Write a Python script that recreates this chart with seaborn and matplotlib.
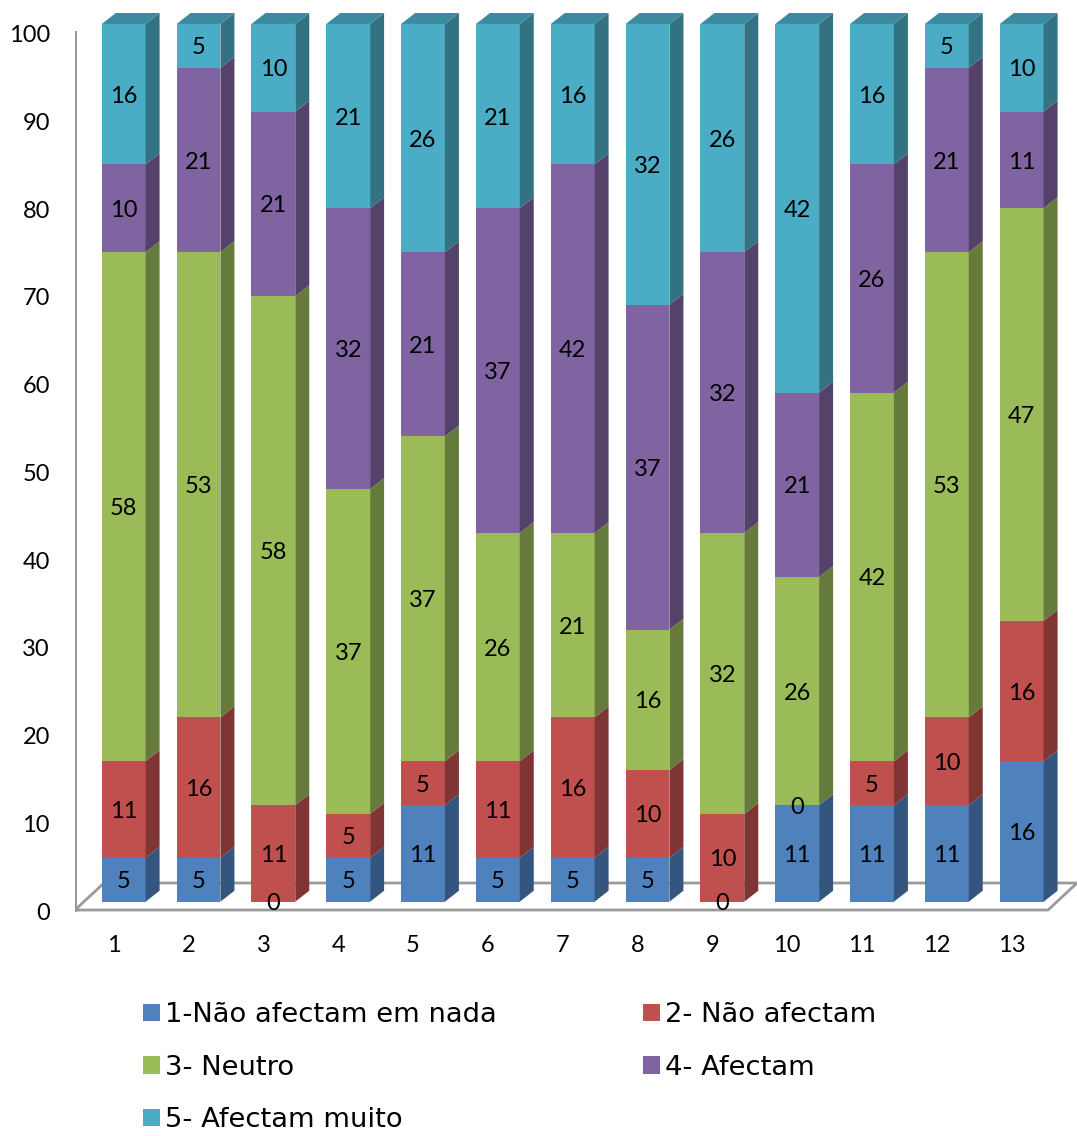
import numpy as np
import matplotlib
matplotlib.use("Agg")
import matplotlib.pyplot as plt
import seaborn as sns
from matplotlib.patches import Polygon, Patch
from matplotlib.transforms import ScaledTranslation
import matplotlib.colors as mcolors

# Survey answers per question (percent of respondents)
questions = [str(i) for i in range(1, 14)]
nada = [5, 5, 0, 5, 11, 5, 5, 5, 0, 11, 11, 11, 16]
nao_afectam = [11, 16, 11, 5, 5, 11, 16, 10, 10, 0, 5, 10, 16]
neutro = [58, 53, 58, 37, 37, 26, 21, 16, 32, 26, 42, 53, 47]
afectam = [10, 21, 21, 32, 21, 37, 42, 37, 32, 21, 26, 21, 11]
muito = [16, 5, 10, 21, 26, 21, 16, 32, 26, 42, 16, 5, 10]
series_names = ["1-Não afectam em nada", "2- Não afectam", "3- Neutro",
                "4- Afectam", "5- Afectam muito"]
colors = ["#4F81BD", "#C0504D", "#9BBB59", "#8064A2", "#4BACC6"]
yticks = list(range(0, 101, 10))

values = np.array([nada, nao_afectam, neutro, afectam, muito])
tops = np.cumsum(values, axis=0)
bottoms = tops - values

W, H = 1077, 1136
fig = plt.figure(figsize=(W / 100, H / 100), dpi=100)
ax = fig.add_axes([75 / W, 1 - 925 / H, (W - 75) / W, 925 / H])

bar_w = 0.585
# oblique depth of the pseudo-3D boxes (in data units)
ddx, ddy = 0.187, 1.25
num_size = 17

# front faces: stacked by overdrawing cumulative totals
for k in reversed(range(len(series_names))):
    sns.barplot(x=questions, y=tops[k], order=questions, color=colors[k],
                saturation=1, width=bar_w, linewidth=0, ax=ax, zorder=2)


def shade(c, f):
    r, g, b = mcolors.to_rgb(c)
    return (r * f, g * f, b * f)


n = len(questions)
for k in range(len(series_names)):
    side_c = shade(colors[k], 0.66)
    top_c = shade(colors[k], 0.80)
    for i in range(n):
        b, t = bottoms[k, i], tops[k, i]
        xr = i + bar_w / 2
        xl = i - bar_w / 2
        if t > b:
            ax.add_patch(Polygon([(xr, b), (xr + ddx, b + ddy),
                                  (xr + ddx, t + ddy), (xr, t)],
                                 closed=True, fc=side_c, ec="none", zorder=2))
        if k == len(series_names) - 1:
            ax.add_patch(Polygon([(xl, t), (xl + ddx, t + ddy),
                                  (xr + ddx, t + ddy), (xr, t)],
                                 closed=True, fc=top_c, ec="none", zorder=2))
        ax.text(i, b + values[k, i] / 2, str(values[k, i]), ha="center",
                va="center_baseline", fontsize=num_size, family="Lato",
                zorder=5)

# floor and vertical axis line
x0, x1 = -0.651, 12.739
y_front, y_back = -0.946, 2.13
fx_front_r = 12.352
fx_back_l = x0 + (x1 - fx_front_r)
gray = "#9A9A9A"
ax.plot([x0, fx_front_r, x1, fx_back_l, x0],
        [y_front, y_front, y_back, y_back, y_front],
        color=gray, lw=2, zorder=0, solid_joinstyle="miter")
ax.plot([x0, x0], [y_front, 99.05], color=gray, lw=2.2, zorder=0)

ax.set_xlim(x0, x1)
ax.set_ylim(-2.655, 102.73)
for s in ax.spines.values():
    s.set_visible(False)

ax.set_yticks(yticks)
ax.set_yticklabels([str(v) for v in yticks])
ax.tick_params(axis="y", length=0, pad=18, labelsize=num_size)
ax.tick_params(axis="x", length=0, pad=13, labelsize=num_size)
ax.set_xlabel("")
ax.set_ylabel("")
for lab in ax.get_yticklabels():
    lab.set_family("Lato")
    lab.set_transform(lab.get_transform() +
                      ScaledTranslation(0, -9.5 / 100, fig.dpi_scale_trans))
for lab in ax.get_xticklabels():
    lab.set_family("Lato")
    lab.set_verticalalignment("center_baseline")
    lab.set_transform(lab.get_transform() +
                      ScaledTranslation(-10 / 100, 0, fig.dpi_scale_trans))

handles = [Patch(facecolor=c, edgecolor="none", label=nm)
           for c, nm in zip(colors, series_names)]
order = [0, 2, 4, 1, 3]
fig.legend([handles[i] for i in order], [series_names[i] for i in order],
           ncol=2, loc="upper left", bbox_to_anchor=(143 / W, 1 - 1002 / H),
           frameon=False, borderpad=0, borderaxespad=0,
           handlelength=0.61, handleheight=0.61, handletextpad=0.2,
           columnspacing=5.34, labelspacing=0.97,
           prop={"family": "DejaVu Sans", "size": 19.7})

fig.savefig("out.png", dpi=100)
